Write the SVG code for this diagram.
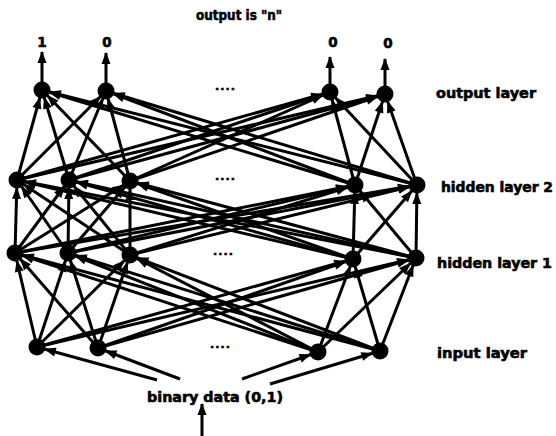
<svg xmlns="http://www.w3.org/2000/svg" width="556" height="436" viewBox="0 0 556 436">
<style>
.t{font-family:"DejaVu Sans","Liberation Sans",Arial,sans-serif;font-weight:bold;font-size:13.5px;fill:#000;stroke:#000;stroke-width:0.6}
.d{font-family:"DejaVu Sans","Liberation Sans",Arial,sans-serif;font-weight:bold;font-size:11px;fill:#000;stroke:#000;stroke-width:0.6}
#connectors line{stroke:#000;stroke-width:3;marker-end:url(#ah)}
#connectors line.o{marker-end:url(#ah0)}
.n{fill:#000}
</style>
<defs>
<marker id="ah" markerUnits="userSpaceOnUse" markerWidth="12" markerHeight="10" refX="19" refY="4.5" orient="auto" overflow="visible"><path d="M0,0 L12,4.5 L0,9 z" fill="#000"/></marker>
<marker id="ah0" markerUnits="userSpaceOnUse" markerWidth="12" markerHeight="10" refX="11" refY="4.5" orient="auto" overflow="visible"><path d="M0,0 L12,4.5 L0,9 z" fill="#000"/></marker>
</defs>
<rect width="556" height="436" fill="#fff"/>
<g id="connectors">
<line x1="37" y1="347" x2="15" y2="253"/><line x1="37" y1="347" x2="68" y2="253"/><line x1="37" y1="347" x2="130" y2="255"/><line x1="37" y1="347" x2="353" y2="259"/><line x1="37" y1="347" x2="416" y2="258"/>
<line x1="98" y1="348" x2="15" y2="253"/><line x1="98" y1="348" x2="68" y2="253"/><line x1="98" y1="348" x2="130" y2="255"/><line x1="98" y1="348" x2="353" y2="259"/><line x1="98" y1="348" x2="416" y2="258"/>
<line x1="318" y1="352" x2="15" y2="253"/><line x1="318" y1="352" x2="68" y2="253"/><line x1="318" y1="352" x2="130" y2="255"/><line x1="318" y1="352" x2="353" y2="259"/><line x1="318" y1="352" x2="416" y2="258"/>
<line x1="380" y1="351" x2="15" y2="253"/><line x1="380" y1="351" x2="68" y2="253"/><line x1="380" y1="351" x2="130" y2="255"/><line x1="380" y1="351" x2="353" y2="259"/><line x1="380" y1="351" x2="416" y2="258"/>
<line x1="15" y1="253" x2="17" y2="180"/><line x1="15" y1="253" x2="69" y2="180"/><line x1="15" y1="253" x2="130" y2="181"/><line x1="15" y1="253" x2="355" y2="185"/><line x1="15" y1="253" x2="417" y2="185"/>
<line x1="68" y1="253" x2="17" y2="180"/><line x1="68" y1="253" x2="69" y2="180"/><line x1="68" y1="253" x2="130" y2="181"/><line x1="68" y1="253" x2="355" y2="185"/><line x1="68" y1="253" x2="417" y2="185"/>
<line x1="130" y1="255" x2="17" y2="180"/><line x1="130" y1="255" x2="69" y2="180"/><line x1="130" y1="255" x2="130" y2="181"/><line x1="130" y1="255" x2="355" y2="185"/><line x1="130" y1="255" x2="417" y2="185"/>
<line x1="353" y1="259" x2="17" y2="180"/><line x1="353" y1="259" x2="69" y2="180"/><line x1="353" y1="259" x2="130" y2="181"/><line x1="353" y1="259" x2="355" y2="185"/><line x1="353" y1="259" x2="417" y2="185"/>
<line x1="416" y1="258" x2="17" y2="180"/><line x1="416" y1="258" x2="69" y2="180"/><line x1="416" y1="258" x2="130" y2="181"/><line x1="416" y1="258" x2="355" y2="185"/><line x1="416" y1="258" x2="417" y2="185"/>
<line x1="17" y1="180" x2="42" y2="90"/><line x1="17" y1="180" x2="106" y2="91"/><line x1="17" y1="180" x2="330" y2="92"/><line x1="17" y1="180" x2="385" y2="94"/>
<line x1="69" y1="180" x2="42" y2="90"/><line x1="69" y1="180" x2="106" y2="91"/><line x1="69" y1="180" x2="330" y2="92"/><line x1="69" y1="180" x2="385" y2="94"/>
<line x1="130" y1="181" x2="42" y2="90"/><line x1="130" y1="181" x2="106" y2="91"/><line x1="130" y1="181" x2="330" y2="92"/><line x1="130" y1="181" x2="385" y2="94"/>
<line x1="355" y1="185" x2="42" y2="90"/><line x1="355" y1="185" x2="106" y2="91"/><line x1="355" y1="185" x2="330" y2="92"/><line x1="355" y1="185" x2="385" y2="94"/>
<line x1="417" y1="185" x2="42" y2="90"/><line x1="417" y1="185" x2="106" y2="91"/><line x1="417" y1="185" x2="330" y2="92"/><line x1="417" y1="185" x2="385" y2="94"/>
<line x1="157" y1="380" x2="37" y2="347"/><line x1="180" y1="379" x2="98" y2="348"/><line x1="242" y1="379" x2="318" y2="352"/><line x1="270" y1="384" x2="380" y2="351"/>
<line class="o" x1="42" y1="90" x2="42" y2="52"/><line class="o" x1="106" y1="91" x2="106" y2="53"/><line class="o" x1="330" y1="92" x2="330" y2="57"/><line class="o" x1="385" y1="94" x2="385" y2="59"/>
<line class="o" x1="202" y1="436" x2="202" y2="404"/>
</g>
<g id="out1"><circle class="n" cx="42" cy="90" r="8.5"/></g>
<g id="out2"><circle class="n" cx="106" cy="91" r="8.5"/></g>
<g id="out3"><circle class="n" cx="330" cy="92" r="8.5"/></g>
<g id="out4"><circle class="n" cx="385" cy="94" r="8.5"/></g>
<g id="h2a"><circle class="n" cx="17" cy="180" r="8.5"/></g>
<g id="h2b"><circle class="n" cx="69" cy="180" r="8.5"/></g>
<g id="h2c"><circle class="n" cx="130" cy="181" r="8.5"/></g>
<g id="h2d"><circle class="n" cx="355" cy="185" r="8.5"/></g>
<g id="h2e"><circle class="n" cx="417" cy="185" r="8.5"/></g>
<g id="h1a"><circle class="n" cx="15" cy="253" r="8.5"/></g>
<g id="h1b"><circle class="n" cx="68" cy="253" r="8.5"/></g>
<g id="h1c"><circle class="n" cx="130" cy="255" r="8.5"/></g>
<g id="h1d"><circle class="n" cx="353" cy="259" r="8.5"/></g>
<g id="h1e"><circle class="n" cx="416" cy="258" r="8.5"/></g>
<g id="in1"><circle class="n" cx="37" cy="347" r="8.5"/></g>
<g id="in2"><circle class="n" cx="98" cy="348" r="8.5"/></g>
<g id="in3"><circle class="n" cx="318" cy="352" r="8.5"/></g>
<g id="in4"><circle class="n" cx="380" cy="351" r="8.5"/></g>
<g id="labels">
<text class="t" x="196" y="20" textLength="86" lengthAdjust="spacingAndGlyphs">output is "n"</text>
<text class="t" x="42" y="47" text-anchor="middle">1</text>
<text class="t" x="107" y="47" text-anchor="middle">0</text>
<text class="t" x="333" y="47" text-anchor="middle">0</text>
<text class="t" x="388" y="48" text-anchor="middle">0</text>
<text class="d" x="215" y="90" textLength="20" lengthAdjust="spacing">....</text>
<text class="d" x="215" y="180" textLength="20" lengthAdjust="spacing">....</text>
<text class="d" x="213" y="255" textLength="20" lengthAdjust="spacing">....</text>
<text class="d" x="210" y="348" textLength="20" lengthAdjust="spacing">....</text>
<text class="t" x="436" y="98" textLength="100" lengthAdjust="spacingAndGlyphs">output layer</text>
<text class="t" x="441" y="192" textLength="112" lengthAdjust="spacingAndGlyphs">hidden layer 2</text>
<text class="t" x="437" y="268" textLength="115" lengthAdjust="spacingAndGlyphs">hidden layer 1</text>
<text class="t" x="437" y="358" textLength="90" lengthAdjust="spacingAndGlyphs">input layer</text>
<text class="t" x="147" y="402" textLength="136" lengthAdjust="spacingAndGlyphs">binary data (0,1)</text>
</g>
</svg>
